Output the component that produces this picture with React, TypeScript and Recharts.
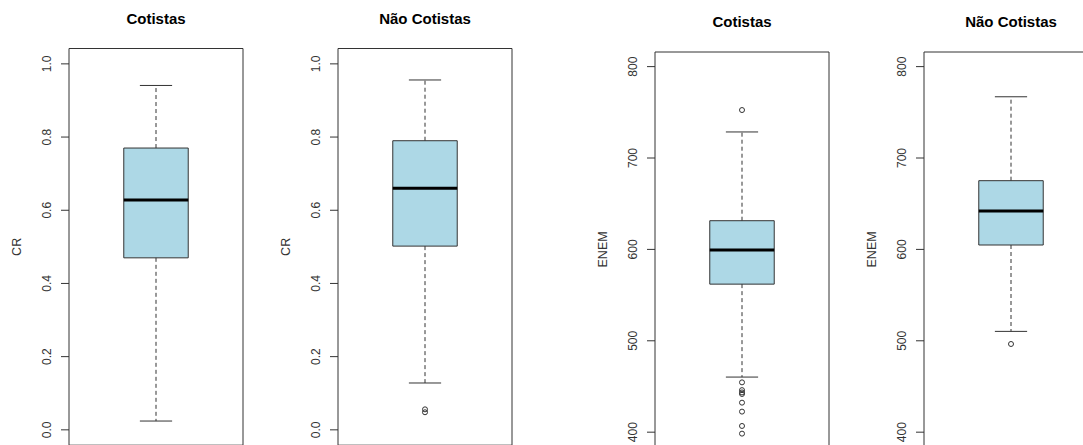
import React from 'react';
import { ComposedChart, XAxis, YAxis, ReferenceArea, ReferenceLine, Scatter } from 'recharts';

// panel texts
const titles = ['Cotistas', 'Não Cotistas', 'Cotistas', 'Não Cotistas'];
const yLabels = ['CR', 'CR', 'ENEM', 'ENEM'];
const crTicks = [0, 0.2, 0.4, 0.6, 0.8, 1];
const enemTicks = [400, 500, 600, 700, 800];

// [lower whisker, Q1, median, Q3, upper whisker]
const crCotistas = [0.024, 0.47, 0.628, 0.77, 0.941];
const crNaoCotistas = [0.128, 0.502, 0.66, 0.79, 0.956];
const enemCotistas = [460.3, 562, 599.3, 631.4, 728.5];
const enemNaoCotistas = [510.3, 604.8, 642, 675.2, 767];

// outliers
const crCotistasOut: number[] = [];
const crNaoCotistasOut = [0.056, 0.048];
const enemCotistasOut = [752.5, 454.5, 446, 443.5, 441.8, 432.3, 422.5, 406.8, 398.4];
const enemNaoCotistasOut = [496.5];

const FONT = '"Liberation Sans", Arial, sans-serif';
const INK = '#333';
const X_DOMAIN: [number, number] = [0.46, 1.54];
const CHART_H = 460;
const PLOT_W = 174;

type PanelProps = {
  left: number;
  axisW: number;
  top: number;
  plotH: number;
  domain: [number, number];
  ticks: number[];
  stats: number[];
  outliers: number[];
  fmt: (v: number) => string;
};

const makeTick = (fmt: (v: number) => string) => (props: any) => {
  const { x, y, payload } = props;
  const tx = x - 8;
  return (
    <text
      x={tx}
      y={y}
      transform={`rotate(-90 ${tx} ${y})`}
      textAnchor="middle"
      fontSize={12}
      fill={INK}
      fontFamily={FONT}
    >
      {fmt(payload.value)}
    </text>
  );
};

const BoxPanel = ({ left, axisW, top, plotH, domain, ticks, stats, outliers, fmt }: PanelProps) => {
  const [lo, q1, med, q3, hi] = stats;
  const points = outliers.map((v) => ({ x: 1, y: v }));
  const width = axisW + PLOT_W + 5;
  return (
    <div style={{ position: 'absolute', left, top: 0 }}>
      <ComposedChart
        width={width}
        height={CHART_H}
        data={[{ x: 1, y: med }]}
        margin={{ top, right: 5, left: 0, bottom: CHART_H - top - plotH }}
      >
        <XAxis type="number" dataKey="x" domain={X_DOMAIN} allowDataOverflow hide />
        <YAxis
          type="number"
          dataKey="y"
          domain={domain}
          ticks={ticks}
          width={axisW}
          axisLine={false}
          tickSize={8}
          tickLine={{ stroke: INK }}
          tick={makeTick(fmt)}
          interval={0}
          allowDataOverflow
        />
        <ReferenceArea x1={0.8} x2={1.2} y1={q1} y2={q3} fill="#ADD8E6" fillOpacity={1} stroke={INK} strokeWidth={1} />
        <ReferenceLine segment={[{ x: 1, y: q3 }, { x: 1, y: hi }]} stroke={INK} strokeDasharray="4 3" />
        <ReferenceLine segment={[{ x: 1, y: q1 }, { x: 1, y: lo }]} stroke={INK} strokeDasharray="4 3" />
        <ReferenceLine segment={[{ x: 0.9, y: hi }, { x: 1.1, y: hi }]} stroke={INK} />
        <ReferenceLine segment={[{ x: 0.9, y: lo }, { x: 1.1, y: lo }]} stroke={INK} />
        <ReferenceLine segment={[{ x: 0.8, y: med }, { x: 1.2, y: med }]} stroke="#000" strokeWidth={3} />
        <ReferenceArea x1={X_DOMAIN[0]} x2={X_DOMAIN[1]} y1={domain[0]} y2={domain[1]} fill="none" stroke={INK} strokeWidth={1} />
        {points.length > 0 && (
          <Scatter
            data={points}
            dataKey="y"
            isAnimationActive={false}
            shape={(p: any) => <circle cx={p.cx} cy={p.cy} r={2.5} fill="none" stroke={INK} strokeWidth={1} />}
          />
        )}
      </ComposedChart>
    </div>
  );
};

const fmtCr = (v: number) => v.toFixed(1);
const fmtEnem = (v: number) => String(v);

const layout = [
  { left: 0, axisW: 69, top: 48.5, plotH: 396.7, titleY: 24 },
  { left: 260, axisW: 78, top: 48.5, plotH: 396.7, titleY: 24 },
  { left: 560, axisW: 95, top: 52, plotH: 394.8, titleY: 26.5 },
  { left: 840, axisW: 84, top: 52, plotH: 394.8, titleY: 26.5 },
];

export default function App() {
  const statsList = [crCotistas, crNaoCotistas, enemCotistas, enemNaoCotistas];
  const outList = [crCotistasOut, crNaoCotistasOut, enemCotistasOut, enemNaoCotistasOut];
  return (
    <div
      style={{
        position: 'absolute',
        left: 0,
        top: 0,
        width: 1083,
        height: 445,
        overflow: 'hidden',
        background: '#fff',
      }}
    >
      {layout.map((l, i) => (
        <BoxPanel
          key={i}
          left={l.left}
          axisW={l.axisW}
          top={l.top}
          plotH={l.plotH}
          domain={i < 2 ? [-0.042, 1.042] : [384, 816]}
          ticks={i < 2 ? crTicks : enemTicks}
          stats={statsList[i]}
          outliers={outList[i]}
          fmt={i < 2 ? fmtCr : fmtEnem}
        />
      ))}
      <svg
        width={1083}
        height={445}
        style={{ position: 'absolute', left: 0, top: 0, pointerEvents: 'none' }}
      >
        {layout.map((l, i) => {
          const plotLeft = l.left + l.axisW;
          const cx = plotLeft + PLOT_W / 2;
          const cy = l.top + l.plotH / 2;
          const lx = plotLeft - 48;
          return (
            <g key={i} fontFamily={FONT}>
              <text x={cx} y={l.titleY} textAnchor="middle" fontSize={15} fontWeight="bold" fill="#000">
                {titles[i]}
              </text>
              <text
                x={lx}
                y={cy}
                transform={`rotate(-90 ${lx} ${cy})`}
                textAnchor="middle"
                fontSize={12.5}
                fill={INK}
              >
                {yLabels[i]}
              </text>
            </g>
          );
        })}
      </svg>
    </div>
  );
}
